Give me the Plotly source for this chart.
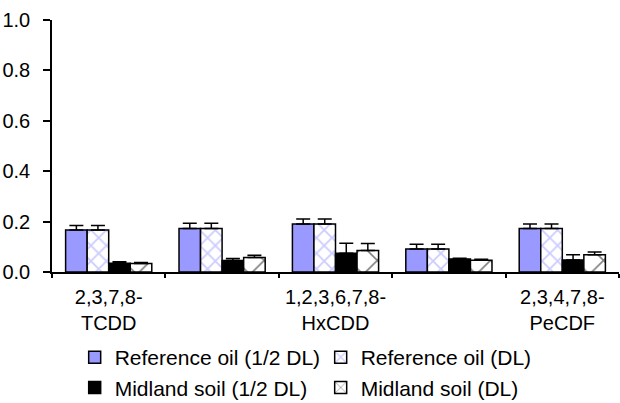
import plotly.graph_objects as go

categories = ["2,3,7,8-TCDD", "1,2,3,7,8-PeCDD", "1,2,3,6,7,8-HxCDD", "2,3,7,8-TCDF", "2,3,4,7,8-PeCDF"]
tick_labels = ["2,3,7,8-<br>TCDD", "", "1,2,3,6,7,8-<br>HxCDD", "", "2,3,4,7,8-<br>PeCDF"]

ref_half = [0.167, 0.173, 0.190, 0.091, 0.173]
ref_half_err = [0.018, 0.020, 0.020, 0.019, 0.017]
ref_dl = [0.167, 0.173, 0.190, 0.091, 0.173]
ref_dl_err = [0.018, 0.020, 0.020, 0.019, 0.017]
mid_half = [0.035, 0.046, 0.074, 0.052, 0.048]
mid_half_err = [0.006, 0.008, 0.040, 0.003, 0.020]
mid_dl = [0.034, 0.058, 0.085, 0.047, 0.068]
mid_dl_err = [0.004, 0.008, 0.028, 0.004, 0.011]

names = ["Reference oil (1/2 DL)", "Reference oil (DL)", "Midland soil (1/2 DL)", "Midland soil (DL)"]

# category positions on the x axis (index of each category)
x_pos = list(range(len(categories)))

FONT = "Liberation Sans, Arial, sans-serif"
line = dict(color="black", width=1.5)

def err(a):
    return dict(type="data", array=a, arrayminus=[0] * len(a), symmetric=False, visible=True,
                color="black", thickness=1.5, width=7)

fig = go.Figure()
fig.add_trace(go.Bar(x=x_pos, y=ref_half, name=names[0], error_y=err(ref_half_err),
                     customdata=categories, hovertemplate="%{customdata}: %{y}",
                     marker=dict(color="#9999FF", line=line)))
fig.add_trace(go.Bar(x=x_pos, y=ref_dl, name=names[1], error_y=err(ref_dl_err),
                     customdata=categories, hovertemplate="%{customdata}: %{y}",
                     marker=dict(color="white", line=line,
                                 pattern=dict(shape="x", fgcolor="#9999FF", bgcolor="white", size=11, solidity=0.3))))
fig.add_trace(go.Bar(x=x_pos, y=mid_half, name=names[2], error_y=err(mid_half_err),
                     customdata=categories, hovertemplate="%{customdata}: %{y}",
                     marker=dict(color="black", line=line)))
fig.add_trace(go.Bar(x=x_pos, y=mid_dl, name=names[3], error_y=err(mid_dl_err),
                     customdata=categories, hovertemplate="%{customdata}: %{y}",
                     marker=dict(color="white", line=line,
                                 pattern=dict(shape="x", fgcolor="black", bgcolor="white", size=20, solidity=0.15))))

fig.update_layout(
    width=620, height=403,
    margin=dict(l=52, r=1, t=20, b=131, autoexpand=False),
    paper_bgcolor="white", plot_bgcolor="white",
    barmode="group", bargap=0.24, bargroupgap=0,
    font=dict(family=FONT, size=20, color="black"),
    showlegend=True,
    legend=dict(orientation="h", x=0.04, y=-0.258, xanchor="left", yanchor="top",
                entrywidth=201, traceorder="normal", font=dict(size=21),
                bgcolor="rgba(0,0,0,0)"),
    xaxis=dict(type="linear", range=[-0.5, len(categories) - 0.5], tickmode="array",
               tickvals=x_pos, ticktext=tick_labels, ticks="",
               minor=dict(tick0=0.5, dtick=1, ticks="outside", ticklen=4,
                          tickwidth=1.5, tickcolor="black", showgrid=False),
               showline=True, linecolor="black", linewidth=1.5, showgrid=False, zeroline=False,
               ticklabelstandoff=6, tickfont=dict(size=20)),
    yaxis=dict(range=[0, 1.0], dtick=0.2, tickformat=".1f", ticks="outside", ticklen=7,
               tickcolor="black", tickwidth=1.5, showline=True, linecolor="black", linewidth=1.5,
               showgrid=False, zeroline=False, ticklabelstandoff=9, tickfont=dict(size=20)),
)

fig.write_html("out.html")
